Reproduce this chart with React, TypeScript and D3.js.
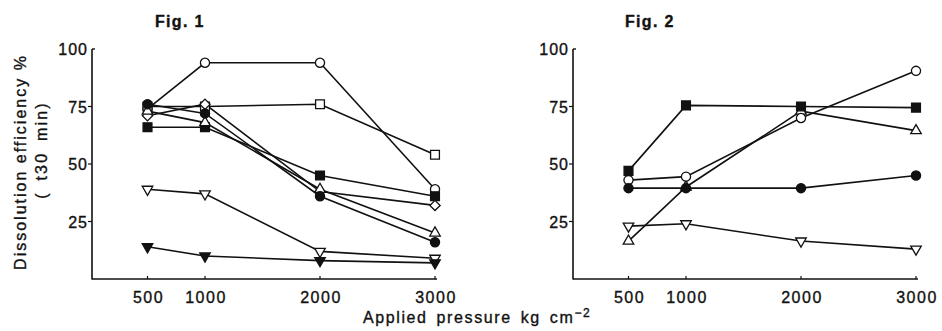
import React, { useEffect, useRef } from 'react';
import * as d3 from 'd3';

const pressures = [500, 1000, 2000, 3000];
const yTicks = [25, 50, 75, 100];

// Fig. 1 series
const fig1OpenCircle = [74, 94, 94, 39];
const fig1OpenSquare = [75, 75, 76, 54];
const fig1FilledSquare = [66, 66, 45, 36];
const fig1FilledCircle = [76, 72, 36, 16];
const fig1Diamond = [71, 76, 38, 32];
const fig1TriUp = [73, 68, 39, 20];
const fig1TriDown = [39, 37, 12, 9];
const fig1FilledTriDown = [14, 10, 8, 7];

// Fig. 2 series
const fig2FilledSquare = [47, 75.5, 75, 74.5];
const fig2OpenCircle = [43, 44.5, 70, 90.5];
const fig2FilledCircle = [39.5, 39.5, 39.5, 45];
const fig2TriUp = [16.5, 40, 73, 64.5];
const fig2TriDown = [23, 24, 16.5, 13];

type Marker = 'circle' | 'square' | 'diamond' | 'triUp' | 'triDown';

interface Series {
  values: number[];
  marker: Marker;
  filled: boolean;
}

const fig1Series: Series[] = [
  { values: fig1OpenCircle, marker: 'circle', filled: false },
  { values: fig1OpenSquare, marker: 'square', filled: false },
  { values: fig1FilledSquare, marker: 'square', filled: true },
  { values: fig1Diamond, marker: 'diamond', filled: false },
  { values: fig1TriUp, marker: 'triUp', filled: false },
  { values: fig1FilledCircle, marker: 'circle', filled: true },
  { values: fig1TriDown, marker: 'triDown', filled: false },
  { values: fig1FilledTriDown, marker: 'triDown', filled: true },
];

const fig2Series: Series[] = [
  { values: fig2TriUp, marker: 'triUp', filled: false },
  { values: fig2OpenCircle, marker: 'circle', filled: false },
  { values: fig2FilledSquare, marker: 'square', filled: true },
  { values: fig2FilledCircle, marker: 'circle', filled: true },
  { values: fig2TriDown, marker: 'triDown', filled: false },
];

const FONT = '"Liberation Sans", Arial, Helvetica, sans-serif';
const INK = '#111';

export default function App() {
  const svgRef = useRef<SVGSVGElement>(null);

  useEffect(() => {
    if (!svgRef.current) return;
    const svg = d3.select(svgRef.current);
    svg.selectAll('*').remove();

    const yScale = d3.scaleLinear().domain([0, 100]).range([279, 49]);

    const symbolPath = (m: Marker) => {
      if (m === 'circle') return d3.symbol().type(d3.symbolCircle).size(66)()!;
      if (m === 'square') return d3.symbol().type(d3.symbolSquare).size(78)()!;
      if (m === 'diamond') return d3.symbol().type(d3.symbolSquare).size(52)()!;
      return d3.symbol().type(d3.symbolTriangle).size(48)()!;
    };
    const symbolRotate = (m: Marker) => (m === 'diamond' ? 45 : m === 'triDown' ? 180 : 0);

    // scanned text looks a bit heavier than plain regular
    const ink = (sel: d3.Selection<SVGTextElement, unknown, null, undefined>) =>
      sel.attr('font-family', FONT).attr('fill', INK).attr('stroke', INK).attr('stroke-width', 0.35);

    const drawPanel = (axisX: number, title: string, titleX: number, series: Series[]) => {
      const xScale = d3.scaleLinear().domain([0, 3000]).range([axisX - 2, axisX + 343]);
      const g = svg.append('g');

      // axes
      g.append('line')
        .attr('x1', axisX).attr('x2', axisX)
        .attr('y1', yScale(100)).attr('y2', yScale(0) + 0.5)
        .attr('stroke', INK).attr('stroke-width', 1.6);
      g.append('line')
        .attr('x1', axisX).attr('x2', xScale(3000) + 2)
        .attr('y1', yScale(0)).attr('y2', yScale(0))
        .attr('stroke', INK).attr('stroke-width', 1.6);

      yTicks.forEach(t => {
        const y = yScale(t);
        if (t === 100) {
          g.append('line').attr('x1', axisX).attr('x2', axisX + 3)
            .attr('y1', y).attr('y2', y).attr('stroke', INK).attr('stroke-width', 1.4);
        } else {
          g.append('line').attr('x1', axisX - 4).attr('x2', axisX)
            .attr('y1', y).attr('y2', y).attr('stroke', INK).attr('stroke-width', 1.2);
        }
        ink(g.append('text'))
          .attr('x', axisX - 4).attr('y', y + 6)
          .attr('text-anchor', 'end')
          .attr('font-size', 16)
          .attr('letter-spacing', 1)
          .text(t);
      });

      pressures.forEach(p => {
        const x = xScale(p);
        g.append('line').attr('x1', x).attr('x2', x)
          .attr('y1', yScale(0)).attr('y2', yScale(0) - 3)
          .attr('stroke', INK).attr('stroke-width', 1.2);
        ink(g.append('text'))
          .attr('x', x + 1).attr('y', yScale(0) + 24)
          .attr('text-anchor', 'middle')
          .attr('font-size', 16)
          .attr('letter-spacing', 1.5)
          .text(p);
      });

      ink(g.append('text'))
        .attr('x', titleX).attr('y', 27)
        .attr('font-size', 16)
        .attr('font-weight', 'bold').attr('letter-spacing', 1.3)
        .text(title);

      const line = d3.line<number>()
        .x((_, i) => xScale(pressures[i]))
        .y(d => yScale(d));

      series.forEach(s => {
        g.append('path')
          .attr('d', line(s.values))
          .attr('fill', 'none')
          .attr('stroke', INK)
          .attr('stroke-width', 1.6);
      });

      series.forEach(s => {
        g.selectAll(null)
          .data(s.values)
          .enter()
          .append('path')
          .attr('d', symbolPath(s.marker))
          .attr('transform', (d, i) =>
            `translate(${xScale(pressures[i])},${yScale(d)}) rotate(${symbolRotate(s.marker)})`)
          .attr('fill', s.filled ? INK : '#fff')
          .attr('stroke', INK)
          .attr('stroke-width', 1.3);
      });
    };

    drawPanel(92, 'Fig. 1', 155, fig1Series);
    drawPanel(573, 'Fig. 2', 625, fig2Series);

    // Y-axis label
    ink(svg.append('text'))
      .attr('transform', 'translate(26, 162) rotate(-90)')
      .attr('text-anchor', 'middle')
      .attr('font-size', 16)
      .attr('letter-spacing', 2)
      .text('Dissolution efficiency %');
    ink(svg.append('text'))
      .attr('transform', 'translate(47, 150) rotate(-90)')
      .attr('text-anchor', 'middle')
      .attr('font-size', 16)
      .attr('letter-spacing', 2.2)
      .attr('word-spacing', 4)
      .text('( t30 min)');

    // X-axis label
    const xl = ink(svg.append('text'))
      .attr('x', 363).attr('y', 323)
      .attr('font-size', 16)
      .attr('letter-spacing', 1.6)
      .attr('word-spacing', 3);
    xl.append('tspan').text('Applied pressure kg cm');
    xl.append('tspan').attr('dy', -6).attr('font-size', 12).text('\u22122');
  }, []);

  return (
    <svg
      ref={svgRef}
      width={942}
      height={331}
      style={{ position: 'absolute', left: 0, top: 0, background: '#fff' }}
    ></svg>
  );
}
